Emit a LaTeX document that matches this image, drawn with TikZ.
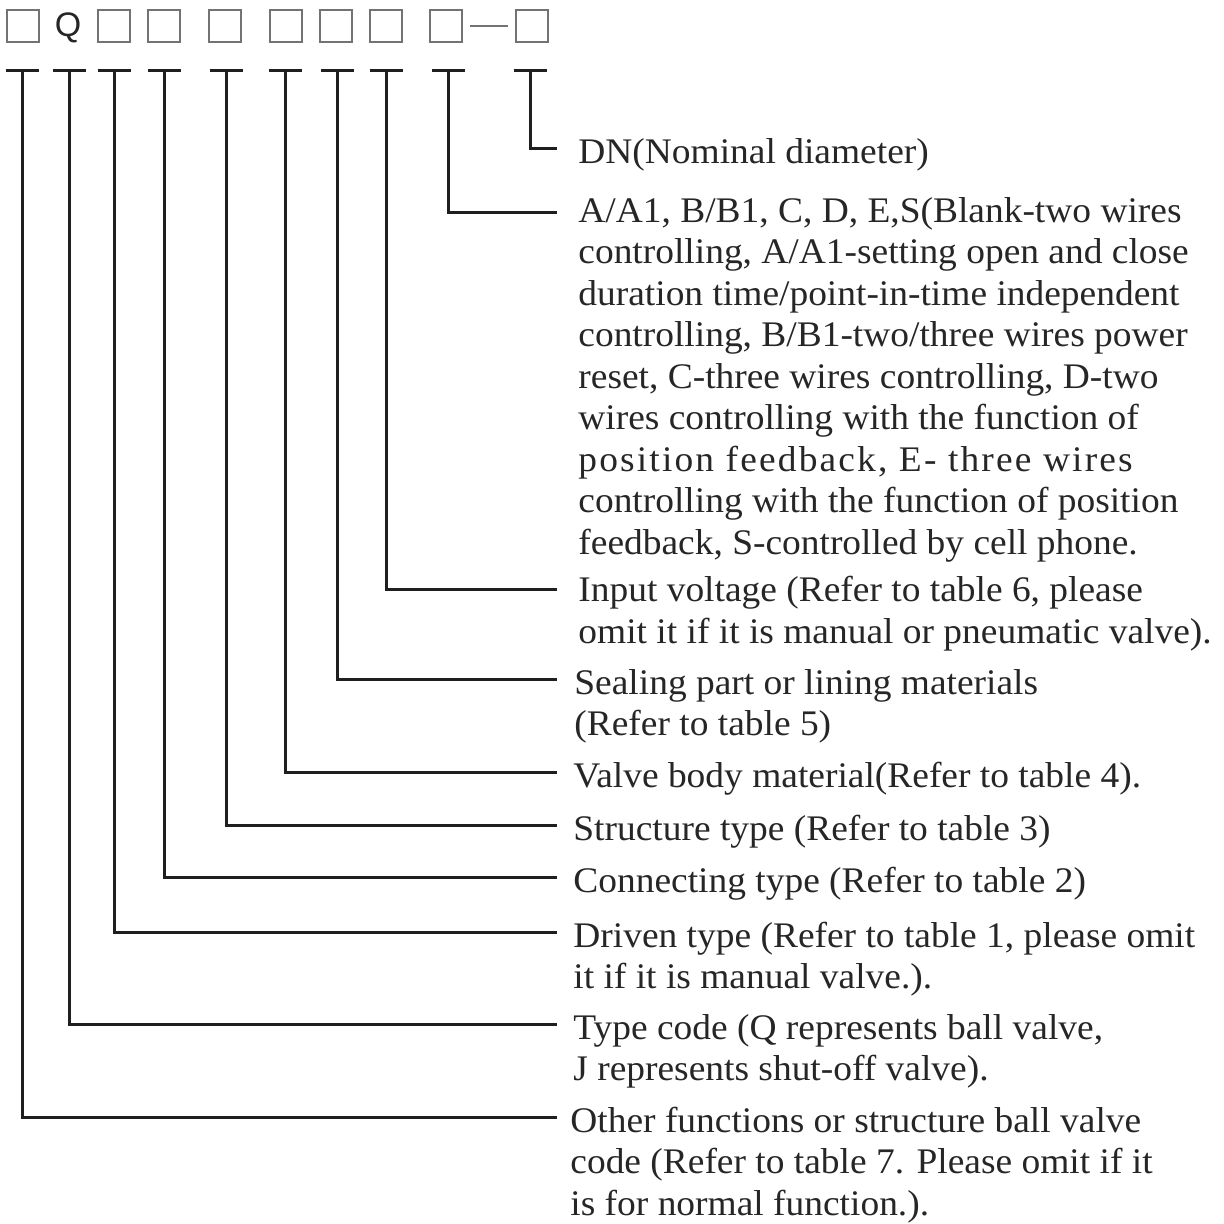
\documentclass[tikz,border=0pt]{standalone}
\usepackage{fontspec}
\setmainfont[FakeStretch=1.04]{Liberation Serif}
\newfontfamily\qfont{Liberation Sans}

\tikzstyle{every node}=[inner sep=0pt]
\tikzstyle{slot}=[draw=black!55, line width=1pt, minimum size=16pt]
\tikzstyle{lead}=[line width=1.5pt, draw=black!88]
\tikzstyle{txt}=[anchor=base west, align=left, text=black!85,
                 font=\fontsize{18}{20.75}\selectfont]

\begin{document}
\begin{tikzpicture}[x=0.5pt,y=-0.5pt]
  \useasboundingbox (0,0) rectangle (1224,1224);
  % code row
  \node[slot] (b1) at (23,26) {};
  \node[font=\qfont\fontsize{17}{17}\selectfont, text=black!85] (q) at (68,28) {Q};
  \node[slot] (b3) at (114,26) {};
  \node[slot] (b4) at (164,26) {};
  \node[slot] (b5) at (225,26) {};
  \node[slot] (b6) at (286,26) {};
  \node[slot] (b7) at (336,26) {};
  \node[slot] (b8) at (386,26) {};
  \node[slot] (b9) at (446,26) {};
  \node[slot] (b10) at (532,26) {};
    \draw[black!55, line width=1pt, shorten <=3.5pt, shorten >=3.5pt] (b9.east) -- (b10.west);

  % tops of the leaders
  \coordinate (t1) at (22,71);
  \coordinate (t2) at (69,71);
  \coordinate (t3) at (114,71);
  \coordinate (t4) at (164,71);
  \coordinate (t5) at (226,71);
  \coordinate (t6) at (285,71);
  \coordinate (t7) at (337,71);
  \coordinate (t8) at (386,71);
  \coordinate (t9) at (448,71);
  \coordinate (t10) at (530,71);
  \foreach \t in {t1,t2,t3,t4,t5,t6,t7,t8,t9,t10}
    \draw[lead] ([xshift=-8.25pt]\t) -- ([xshift=8.25pt]\t);

  % leader ends
  \coordinate (e10) at (557,149);
  \coordinate (e9) at (557,213);
  \coordinate (e8) at (557,589);
  \coordinate (e7) at (557,679);
  \coordinate (e6) at (557,772);
  \coordinate (e5) at (557,825);
  \coordinate (e4) at (557,877);
  \coordinate (e3) at (557,932);
  \coordinate (e2) at (557,1024);
  \coordinate (e1) at (557,1117);

  \draw[lead] (t10) |- (e10);
  \draw[lead] (t9) |- (e9);
  \draw[lead] (t8) |- (e8);
  \draw[lead] (t7) |- (e7);
  \draw[lead] (t6) |- (e6);
  \draw[lead] (t5) |- (e5);
  \draw[lead] (t4) |- (e4);
  \draw[lead] (t3) |- (e3);
  \draw[lead] (t2) |- (e2);
  \draw[lead] (t1) |- (e1);

  % labels (base = last line, so shift down by the extra lines)
  \node[txt] (dn) at ([xshift=10.5pt,yshift=-7.5pt]e10) {DN(Nominal diameter)};
  \node[txt] (ctrl) at ([xshift=10.5pt,yshift=-170.5pt]e9)
    {A/A1, B/B1, C, D, E,S(Blank-two wires\\
     controlling, A/A1-setting open and close\\
     duration time/point-in-time independent\\
     controlling, B/B1-two/three wires power\\
     reset, C-three wires controlling, D-two\\
     wires controlling with the function of\\
     {\addfontfeature{LetterSpace=6}position feedback, E- three wires}\\
     controlling with the function of position\\
     feedback, S-controlled by cell phone.};
  \node[txt] (volt) at ([xshift=10.5pt,yshift=-27pt]e8)
    {Input voltage (Refer to table 6, please\\
     omit it if it is manual or pneumatic valve).};
  \node[txt] (seal) at ([xshift=8.5pt,yshift=-28.25pt]e7)
    {Sealing part or lining materials\\
     (Refer to table 5)};
  \node[txt] (body) at ([xshift=8pt,yshift=-7.5pt]e6) {Valve body material(Refer to table 4).};
  \node[txt] (struct) at ([xshift=8pt,yshift=-7.5pt]e5) {Structure type (Refer to table 3)};
  \node[txt] (conn) at ([xshift=8pt,yshift=-7.5pt]e4) {Connecting type (Refer to table 2)};
  \node[txt] (drive) at ([xshift=8pt,yshift=-28.25pt]e3)
    {Driven type (Refer to table 1, please omit\\
     it if it is manual valve.).};
  \node[txt] (type) at ([xshift=8pt,yshift=-28.25pt]e2)
    {Type code (Q represents ball valve,\\
     J represents shut-off valve).};
  \node[txt] (other) at ([xshift=6.5pt,yshift=-49pt]e1)
    {Other functions or structure ball valve\\
     code (Refer to table 7. Please omit if it\\
     is for normal function.).};
\end{tikzpicture}
\end{document}
